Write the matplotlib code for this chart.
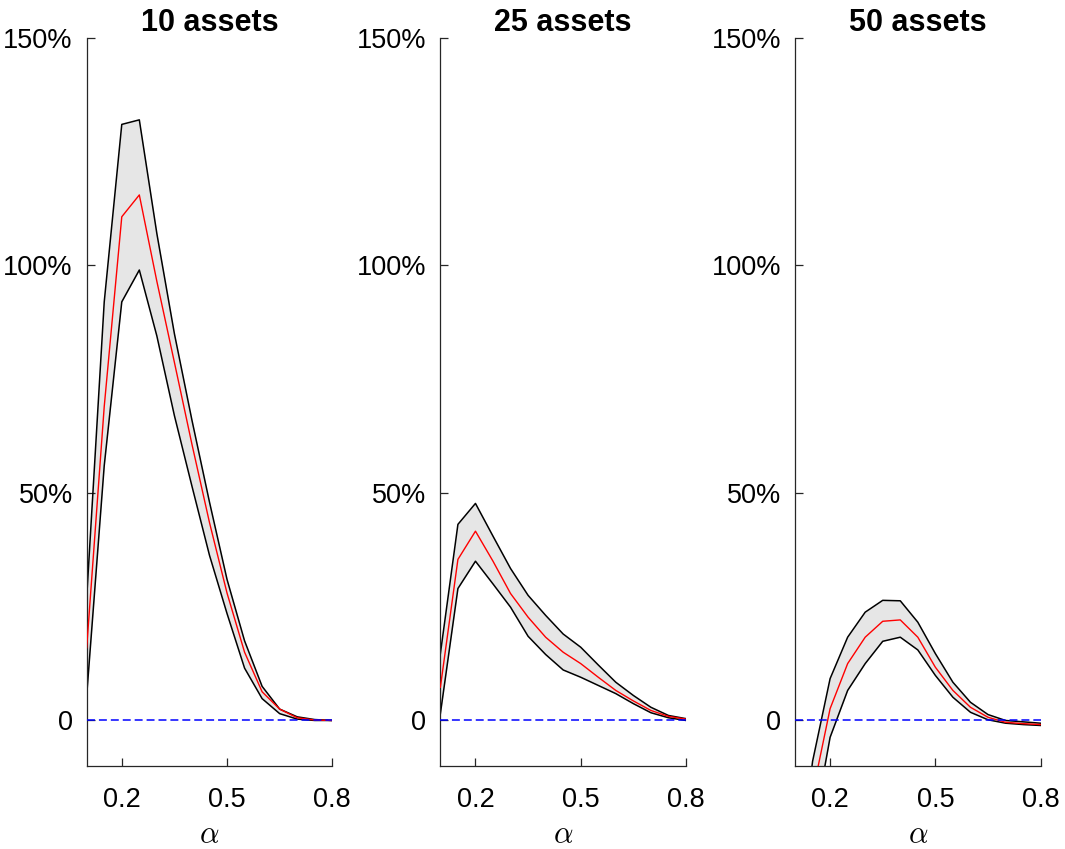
import matplotlib
matplotlib.use("Agg")
import matplotlib.pyplot as plt

plt.rcParams["font.family"] = ["Liberation Sans", "DejaVu Sans"]
plt.rcParams["mathtext.fontset"] = "cm"

# valores de alpha
alpha = [0.10, 0.15, 0.20, 0.25, 0.30, 0.35, 0.40, 0.45,
         0.50, 0.55, 0.60, 0.65, 0.70, 0.75, 0.80]

titulos = ["10 assets", "25 assets", "50 assets"]

# 10 activos
upper_10 = [0.27, 0.92, 1.31, 1.32, 1.07, 0.85, 0.66, 0.48,
            0.31, 0.175, 0.075, 0.025, 0.008, 0.002, 0.0]
mid_10 = [0.16, 0.69, 1.107, 1.155, 0.965, 0.787, 0.607, 0.435,
          0.28, 0.15, 0.063, 0.025, 0.006, 0.001, 0.0]
lower_10 = [0.055, 0.56, 0.92, 0.99, 0.845, 0.67, 0.515, 0.363,
            0.235, 0.115, 0.048, 0.015, 0.003, 0.0, 0.0]

# 25 activos
upper_25 = [0.147, 0.431, 0.477, 0.405, 0.334, 0.275, 0.231, 0.19,
            0.161, 0.122, 0.084, 0.055, 0.029, 0.011, 0.004]
mid_25 = [0.073, 0.354, 0.416, 0.35, 0.279, 0.227, 0.183, 0.15,
          0.125, 0.095, 0.066, 0.043, 0.022, 0.009, 0.003]
lower_25 = [0.015, 0.29, 0.35, 0.30, 0.249, 0.185, 0.145, 0.111,
            0.095, 0.077, 0.059, 0.037, 0.017, 0.006, 0.0]

# 50 activos
upper_50 = [-0.40, -0.09, 0.092, 0.183, 0.238, 0.264, 0.263, 0.216,
            0.147, 0.084, 0.04, 0.013, 0.0, -0.003, -0.006]
mid_50 = [-0.50, -0.16, 0.026, 0.125, 0.183, 0.218, 0.221, 0.183,
          0.117, 0.066, 0.029, 0.007, -0.004, -0.007, -0.009]
lower_50 = [-0.65, -0.25, -0.037, 0.066, 0.125, 0.174, 0.183, 0.155,
            0.099, 0.051, 0.018, 0.0015, -0.006, -0.009, -0.011]

paneles = [
    (upper_10, mid_10, lower_10),
    (upper_25, mid_25, lower_25),
    (upper_50, mid_50, lower_50),
]

x_ticks = [0.2, 0.5, 0.8]
x_labels = ["0.2", "0.5", "0.8"]
y_ticks = [0, 0.5, 1.0, 1.5]
y_labels = ["0", "50%", "100%", "150%"]

eje_color = "#262626"

fig = plt.figure(figsize=(10.65, 8.49), dpi=100)

lefts = [0.0814, 0.4135, 0.7465]

for i, (upper, mid, lower) in enumerate(paneles):

    ax = fig.add_axes([lefts[i], 0.0978, 0.2306, 0.8575])

    # banda
    ax.fill_between(alpha, lower, upper, color="#e6e6e6", linewidth=0, zorder=1)
    ax.plot(alpha, upper, color="black", linewidth=1.1, zorder=2)
    ax.plot(alpha, lower, color="black", linewidth=1.1, zorder=2)
    ax.plot(alpha, mid, color="red", linewidth=1.0, zorder=3)

    # referencia en cero
    ax.plot([0.1, 0.8], [0, 0], color="blue", linewidth=1.1,
            linestyle="--", dashes=(5.2, 2.6), zorder=4)

    ax.set_xlim(0.1, 0.8)
    ax.set_ylim(-0.1, 1.5)

    ax.set_xticks(x_ticks)
    ax.set_xticklabels(x_labels)
    ax.set_yticks(y_ticks)
    ax.set_yticklabels(y_labels)

    for lado in ["top", "right"]:
        ax.spines[lado].set_visible(False)
    for lado in ["left", "bottom"]:
        ax.spines[lado].set_color(eje_color)
        ax.spines[lado].set_linewidth(0.9)

    ax.tick_params(axis="both", direction="in", length=5.5, width=0.9,
                   color=eje_color, labelsize=19.5, labelcolor="black")
    ax.tick_params(axis="x", pad=15)
    ax.tick_params(axis="y", pad=10)

    ax.set_title(titulos[i], fontsize=22, fontweight="bold", pad=4)
    ax.set_xlabel(r"$\alpha$", fontsize=22, labelpad=5)

fig.savefig("out.png", dpi=100)
